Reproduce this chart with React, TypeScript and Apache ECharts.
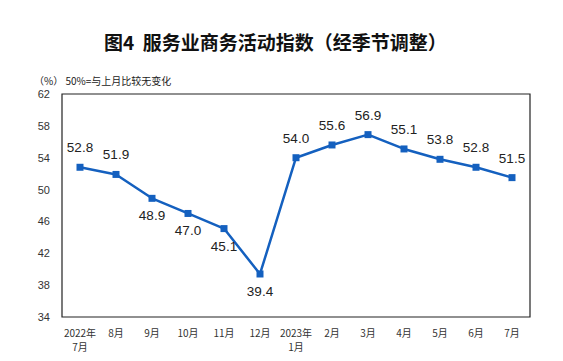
import React, { useEffect, useRef } from "react";
import * as echarts from "echarts";

const categories = [
  "2022年\n7月", "8月", "9月", "10月", "11月", "12月", "2023年\n1月",
  "2月", "3月", "4月", "5月", "6月", "7月",
];
const values = [52.8, 51.9, 48.9, 47.0, 45.1, 39.4, 54.0, 55.6, 56.9, 55.1, 53.8, 52.8, 51.5];
const labelBelow = [false, false, true, true, true, true, false, false, false, false, false, false, false];
const yTicks = { min: 34, max: 62, interval: 4 };
const baseline = 50;

export default function App() {
  const ref = useRef<HTMLDivElement>(null);
  useEffect(() => {
    if (!ref.current) return;
    const chart = echarts.init(ref.current, undefined, { renderer: "svg" });
    const gridTop = 94;
    const gridBottom = 44;
    const plotH = 361 - gridTop - gridBottom;
    const offset = (plotH * (baseline - yTicks.min)) / (yTicks.max - yTicks.min);
    chart.setOption({
      animation: false,
      backgroundColor: "#fff",
      title: [
        {
          text: "图4  服务业商务活动指数（经季节调整）",
          left: 99,
          top: 27,
          textStyle: { fontSize: 19, fontWeight: "bold", color: "#111", fontFamily: "Noto Sans CJK SC" },
        },
        {
          text: "（%） 50%=与上月比较无变化",
          left: 29,
          top: 70,
          textStyle: { fontSize: 10, fontWeight: "normal", color: "#222", fontFamily: "Noto Sans CJK SC" },
        },
      ],
      grid: {
        left: 62,
        right: 33,
        top: gridTop,
        bottom: gridBottom,
        show: true,
        borderColor: "#222",
        borderWidth: 1.2,
        outerBoundsMode: "none",
      },
      xAxis: [
        {
          type: "category",
          data: categories,
          boundaryGap: true,
          position: "bottom",
          axisLine: { show: false },
          axisTick: { show: false },
          axisLabel: {
            interval: 0,
            fontSize: 10,
            color: "#333",
            margin: 8,
            lineHeight: 14,
            fontFamily: "Noto Sans CJK SC",
          },
        },
        {
          type: "category",
          data: categories,
          boundaryGap: true,
          position: "bottom",
          offset: offset,
          axisLine: { show: true, lineStyle: { color: "#222", width: 1.2 } },
          axisTick: { show: true, inside: true, length: 3, lineStyle: { color: "#222" } },
          axisLabel: { show: false },
        },
      ],
      yAxis: {
        type: "value",
        min: yTicks.min,
        max: yTicks.max,
        interval: yTicks.interval,
        splitLine: { show: false },
        axisLine: { show: false },
        axisTick: { show: false },
        axisLabel: { fontSize: 11, color: "#333", margin: 12, fontFamily: "Liberation Sans" },
      },
      series: [
        {
          type: "line",
          xAxisIndex: 0,
          data: values.map((v, i) => ({
            value: v,
            label: {
              position: labelBelow[i] ? "bottom" : "top",
              distance: labelBelow[i] ? 7 : 9,
            },
          })),
          symbol: "rect",
          symbolSize: 7,
          lineStyle: { color: "#1460bf", width: 2.5 },
          itemStyle: { color: "#1460bf" },
          label: {
            show: true,
            fontSize: 13.5,
            color: "#222",
            fontFamily: "Liberation Sans",
            formatter: (p: any) => Number(p.value).toFixed(1),
          },
        },
      ],
    });
    return () => chart.dispose();
  }, []);
  return <div ref={ref} style={{ width: 563, height: 361, position: "absolute", left: 0, top: 0 }} />;
}
